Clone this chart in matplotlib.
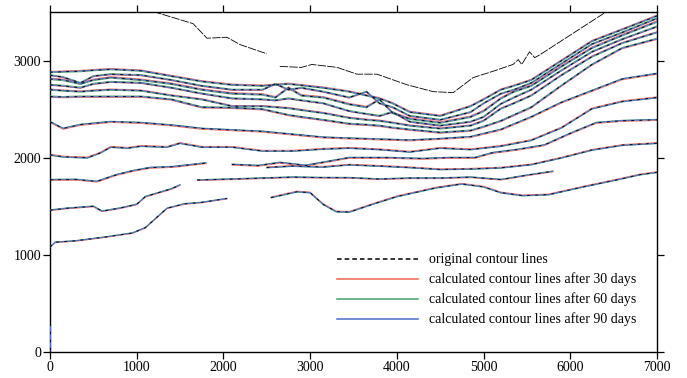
import numpy as np
import matplotlib
matplotlib.use("Agg")
import matplotlib.pyplot as plt
from matplotlib.lines import Line2D

nan = np.nan

plt.rcParams['font.family'] = ['Liberation Serif', 'DejaVu Serif']

# ---- contour traces (x in m along profile, y elevation in m) ----
# highest contour, only present in the original map
top_x = [1190, 1650, 1810, 2040, 2190, 2500, nan, 2650, 2900, 3020, 3310, 3540, 3770,
         4120, 4420, 4650, 4880, 5110, 5340, 5400, 5440, 5530, 5590, 5650, 6420]
top_y = [3505, 3380, 3230, 3240, 3165, 3070, nan, 2940, 2930, 2960, 2930, 2860, 2860,
         2750, 2680, 2670, 2825, 2890, 2960, 3010, 2960, 3090, 3030, 3060, 3505]

# upper band of closely spaced contours
band_x = [0, 150, 350, 500, 700, 1050, 1400, 1750, 2100, 2450, 2600, 2750, 2900, 3150,
          3450, 3650, 3800, 3950, 4150, 4500, 4850, 5000, 5200, 5350, 5550, 5900, 6250,
          6600, 7000]
k1_y = [2880, 2885, 2890, 2900, 2910, 2895, 2840, 2785, 2750, 2740, 2750, 2760, 2745, 2720,
        2680, 2640, 2610, 2560, 2470, 2430, 2530, 2600, 2700, 2740, 2800, 3000, 3200,
        3320, 3460]
k2_y = [2850, 2830, 2770, 2840, 2860, 2850, 2800, 2740, 2700, 2700, 2760, 2700, 2720, 2680,
        2620, 2680, 2560, 2520, 2430, 2390, 2470, 2560, 2660, 2700, 2770, 2970, 3170,
        3290, 3435]
k3_y = [2810, 2800, 2760, 2800, 2825, 2800, 2760, 2700, 2660, 2650, 2620, 2720, 2640, 2620,
        2550, 2520, 2600, 2460, 2400, 2360, 2420, 2480, 2610, 2680, 2740, 2940, 3130,
        3260, 3400]
k4_y = [2750, 2740, 2720, 2760, 2780, 2770, 2720, 2660, 2610, 2600, 2590, 2610, 2590, 2560,
        2480, 2450, 2430, 2470, 2370, 2330, 2370, 2420, 2555, 2620, 2700, 2900, 3090,
        3220, 3350]
k5_y = [2700, 2690, 2680, 2690, 2700, 2690, 2640, 2600, 2530, 2530, 2520, 2510, 2490, 2460,
        2410, 2390, 2380, 2360, 2330, 2300, 2330, 2380, 2505, 2560, 2640, 2850, 3040,
        3180, 3290]
k6_y = [2630, 2625, 2630, 2630, 2630, 2630, 2600, 2520, 2515, 2500, 2470, 2440, 2420, 2390,
        2350, 2340, 2330, 2310, 2290, 2260, 2280, 2320, 2380, 2440, 2520, 2745, 2960,
        3130, 3225]

k7_x = [0, 150, 350, 700, 1050, 1400, 1750, 2100, 2450, 2800, 3150, 3450, 3800, 4150,
        4500, 4850, 5200, 5550, 5900, 6250, 6600, 7000]
k7_y = [2370, 2300, 2340, 2370, 2360, 2335, 2300, 2285, 2270, 2240, 2210, 2200, 2190, 2180,
        2195, 2215, 2290, 2420, 2570, 2690, 2810, 2866]

k8_x = [0, 150, 430, 580, 700, 900, 1050, 1350, 1500, 1750, 2100, 2450, 2800, 3150, 3450,
        3800, 4150, 4500, 4850, 5200, 5550, 5900, 6250, 6600, 7000]
k8_y = [2030, 2010, 2000, 2050, 2110, 2100, 2120, 2110, 2150, 2110, 2110, 2070, 2070, 2090,
        2100, 2085, 2060, 2100, 2085, 2120, 2180, 2310, 2505, 2580, 2620]

k9_x = [0, 300, 540, 770, 960, 1150, 1420, 1800, nan, 2100, 2400, 2650, 2950, 3200, 3450,
        3900, 4300, 4600, 4900, 5100, 5400, 5700, 6000, 6300, 6600, 7000]
k9_y = [1773, 1775, 1755, 1825, 1866, 1897, 1907, 1945, nan, 1930, 1918, 1950, 1920, 1960,
        2000, 2000, 1990, 2000, 2000, 2050, 2085, 2130, 2250, 2360, 2380, 2390]

k10_x = [2500, 2800, 3150, 3450, 3800, 4150, 4500, 4850, 5200, 5550, 5900, 6250, 6600, 7000]
k10_y = [1900, 1915, 1905, 1928, 1915, 1900, 1880, 1885, 1897, 1930, 2000, 2080, 2130, 2150]

k11_x = [0, 200, 500, 600, 800, 1000, 1100, 1400, 1500, nan, 1700, 2100, 2450, 2800, 3150,
         3450, 3800, 4150, 4500, 4850, 5200, 5500, 5800]
k11_y = [1460, 1480, 1500, 1450, 1480, 1520, 1600, 1680, 1720, nan, 1770, 1780, 1790, 1800,
         1795, 1794, 1780, 1790, 1790, 1800, 1775, 1820, 1860]

k12_x = [2550, 2850, 3000, 3150, 3300, 3450, 3750, 4000, 4250, 4450, 4750, 5000, 5200, 5450,
         5750, 6150, 6550, 6800, 7000]
k12_y = [1590, 1650, 1640, 1520, 1445, 1440, 1530, 1600, 1650, 1690, 1730, 1700, 1640, 1610,
         1620, 1700, 1775, 1825, 1850]

k13_x = [0, 60, 300, 650, 950, 1100, 1250, 1350, 1550, 1750, 2040]
k13_y = [1080, 1130, 1145, 1185, 1225, 1280, 1400, 1480, 1525, 1540, 1580]

stub_x = [0, 0]
stub_y = [20, 270]

# mean vertical deviation (m) of each computed contour from the original one
dev_30 = [9, -7, 10, -6, 8, -9, -8, 7, -7, 6, -6, 7, -5, 0]
dev_60 = [-6, 6, -7, 7, -6, 6, 6, -6, 6, -6, 5, -5, 4, 0]
dev_90 = [2, -2, 2, -2, 2, -2, 2, -2, 2, -2, 0, 0, 0, 0]

legend_labels = ["original contour lines",
                 "calculated contour lines after 30 days",
                 "calculated contour lines after 60 days",
                 "calculated contour lines after 90 days"]

contours = [(band_x, k1_y), (band_x, k2_y), (band_x, k3_y), (band_x, k4_y),
            (band_x, k5_y), (band_x, k6_y), (k7_x, k7_y), (k8_x, k8_y),
            (k9_x, k9_y), (k10_x, k10_y), (k11_x, k11_y), (k12_x, k12_y),
            (k13_x, k13_y), (stub_x, stub_y)]

c_orig = 'black'
c30 = '#EE6650'
c60 = '#46A064'
c90 = '#4F6CC8'
dash = (0, (3.0, 6.0))
lw = 0.6

fig = plt.figure(figsize=(6.87, 3.78), dpi=100)
ax = fig.add_axes([50 / 687, 26 / 378, 607 / 687, 340 / 378])

for i, (xs, ys) in enumerate(contours):
    xs = np.asarray(xs, float)
    ys = np.asarray(ys, float)
    ax.plot(xs, ys + dev_30[i], color=c30, lw=lw, zorder=2)
    ax.plot(xs, ys + dev_60[i], color=c60, lw=lw, zorder=3)
    ax.plot(xs, ys + dev_90[i], color=c90, lw=0.8, zorder=4)
    ax.plot(xs, ys, color=c_orig, lw=0.65, ls=dash, zorder=5)

ax.plot(top_x, top_y, color=c_orig, lw=0.6, ls=(0, (10, 1.5)), zorder=5)

ax.set_xlim(0, 7000)
ax.set_ylim(0, 3500)
ax.set_xticks(np.arange(0, 7001, 1000))
ax.set_yticks(np.arange(0, 3001, 1000))
ax.tick_params(direction='out', length=5, width=0.9, top=True, right=True,
               labeltop=False, labelright=False, labelsize=10, pad=1.5, colors='black')
for sp in ax.spines.values():
    sp.set_linewidth(1.0)

handles = [Line2D([], [], color=c_orig, lw=1.1, ls=(0, (3, 2))),
           Line2D([], [], color=c30, lw=1.1),
           Line2D([], [], color=c60, lw=1.1),
           Line2D([], [], color=c90, lw=1.1)]
ax.legend(handles, legend_labels, loc='upper left', bbox_to_anchor=(0.473, 0.29),
          frameon=False, handlelength=5.8, handletextpad=0.85, labelspacing=0.45,
          borderpad=0, borderaxespad=0, fontsize=10)

fig.savefig('out.png', dpi=100)
